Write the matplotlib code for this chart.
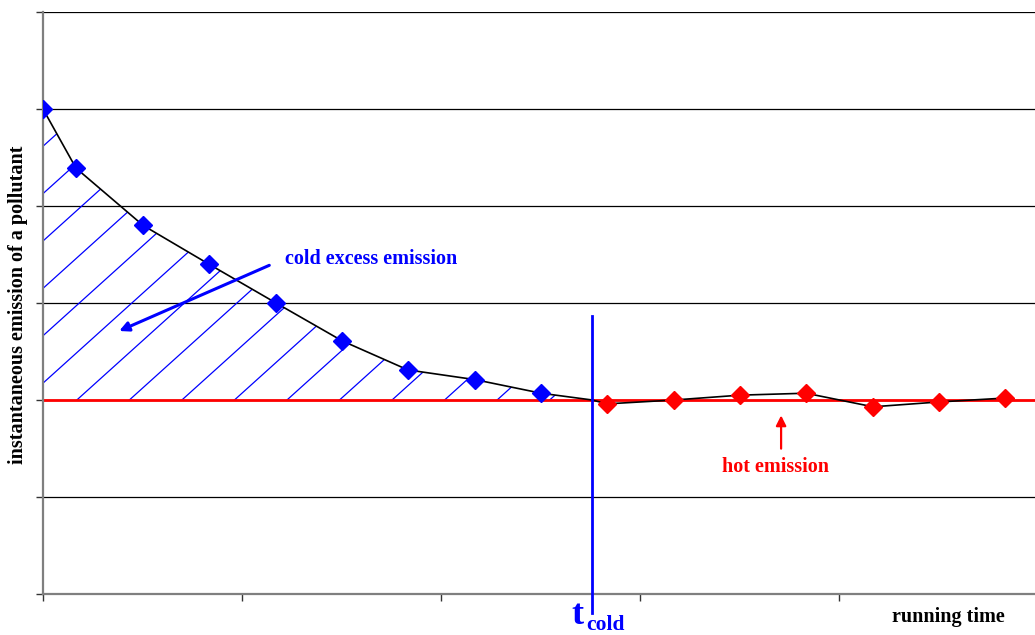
import matplotlib.pyplot as plt
import numpy as np

plt.rcParams['font.family'] = ['Liberation Serif', 'DejaVu Serif']

# cold start phase (blue) and hot phase (red)
cold_time = [0.0, 0.166, 0.503, 0.834, 1.171, 1.503, 1.834, 2.171, 2.503]
cold_emission = [5.0, 4.39, 3.80, 3.40, 3.0, 2.61, 2.31, 2.21, 2.07]
hot_time = [2.834, 3.171, 3.503, 3.834, 4.171, 4.503, 4.834]
hot_emission = [1.96, 2.0, 2.05, 2.07, 1.93, 1.98, 2.02]
hot_level = 2.0
t_cold = 2.76

fig = plt.figure(figsize=(10.35, 6.35), dpi=100)
ax = fig.add_axes([43 / 1035, 41 / 635, 992 / 1035, 582 / 635])
ax.set_xlim(0, 992 / 199)
ax.set_ylim(0, 6)

# grid + axes look
ax.set_yticks(range(0, 7))
ax.set_xticks(range(0, 5))
ax.set_yticklabels([])
ax.set_xticklabels([])
ax.yaxis.grid(True, color='black', lw=0.9)
ax.set_axisbelow(True)
ax.tick_params(axis='both', direction='out', length=5, width=1, color='#333333')
for s in ['top', 'right']:
    ax.spines[s].set_visible(False)
for s in ['left', 'bottom']:
    ax.spines[s].set_color('#7f7f7f')
    ax.spines[s].set_linewidth(1.6)

# whole emission curve, passing through the hot level at t_cold
all_t = cold_time + [t_cold] + hot_time
all_e = cold_emission + [hot_level] + hot_emission
ax.plot(all_t, all_e, color='black', lw=1.2, zorder=3)

# hatched area between the cold curve and hot level
fill_t = cold_time + [t_cold]
fill_e = cold_emission + [hot_level]
poly = ax.fill_between(fill_t, fill_e, hot_level, facecolor='none', edgecolor='none')
clip = poly.get_paths()[0]
slope = 1.85
xs = np.array([-2.0, 4.0])
for x0 in np.arange(0.17 - 7 * 0.264, 3.0, 0.264):
    ln, = ax.plot(xs, hot_level + slope * (xs - x0), color='blue', lw=0.9, zorder=2)
    ln.set_clip_path(clip, ax.transData)

ax.axhline(hot_level, color='red', lw=2, zorder=2.5)

ax.plot(cold_time, cold_emission, ls='none', marker='D', ms=9, color='blue', zorder=4)
ax.plot(hot_time, hot_emission, ls='none', marker='D', ms=9, color='red', zorder=4)

# t_cold marker line
ax.plot([t_cold, t_cold], [-0.2, 2.87], color='blue', lw=2, clip_on=False, zorder=5)
ax.text(2.655, -0.31, 't', color='blue', fontsize=26, fontweight='bold',
        ha='left', va='baseline')
ax.text(2.728, -0.37, 'cold', color='blue', fontsize=15.5, fontweight='bold',
        ha='left', va='baseline')

# annotations
ax.annotate('', xy=(0.37, 2.7), xytext=(1.15, 3.4),
            arrowprops=dict(arrowstyle='-|>', color='blue', lw=2.2, mutation_scale=14))
ax.text(1.215, 3.45, 'cold excess emission', color='blue', fontsize=14.5,
        fontweight='bold', ha='left', va='center')
ax.annotate('', xy=(3.709, 1.87), xytext=(3.709, 1.47),
            arrowprops=dict(arrowstyle='-|>', color='red', lw=1.6, mutation_scale=15))
ax.text(3.68, 1.31, 'hot emission', color='red', fontsize=14.5,
        fontweight='bold', ha='center', va='center')

fig.text(18 / 1035, 1 - 305 / 635, 'instantaneous emission of a pollutant', fontsize=14.5,
         fontweight='bold', rotation=90, ha='center', va='center')
ax.text(4.55, -0.24, 'running time', fontsize=14.5, fontweight='bold', ha='center', va='center')

fig.savefig('out.png', dpi=100)
